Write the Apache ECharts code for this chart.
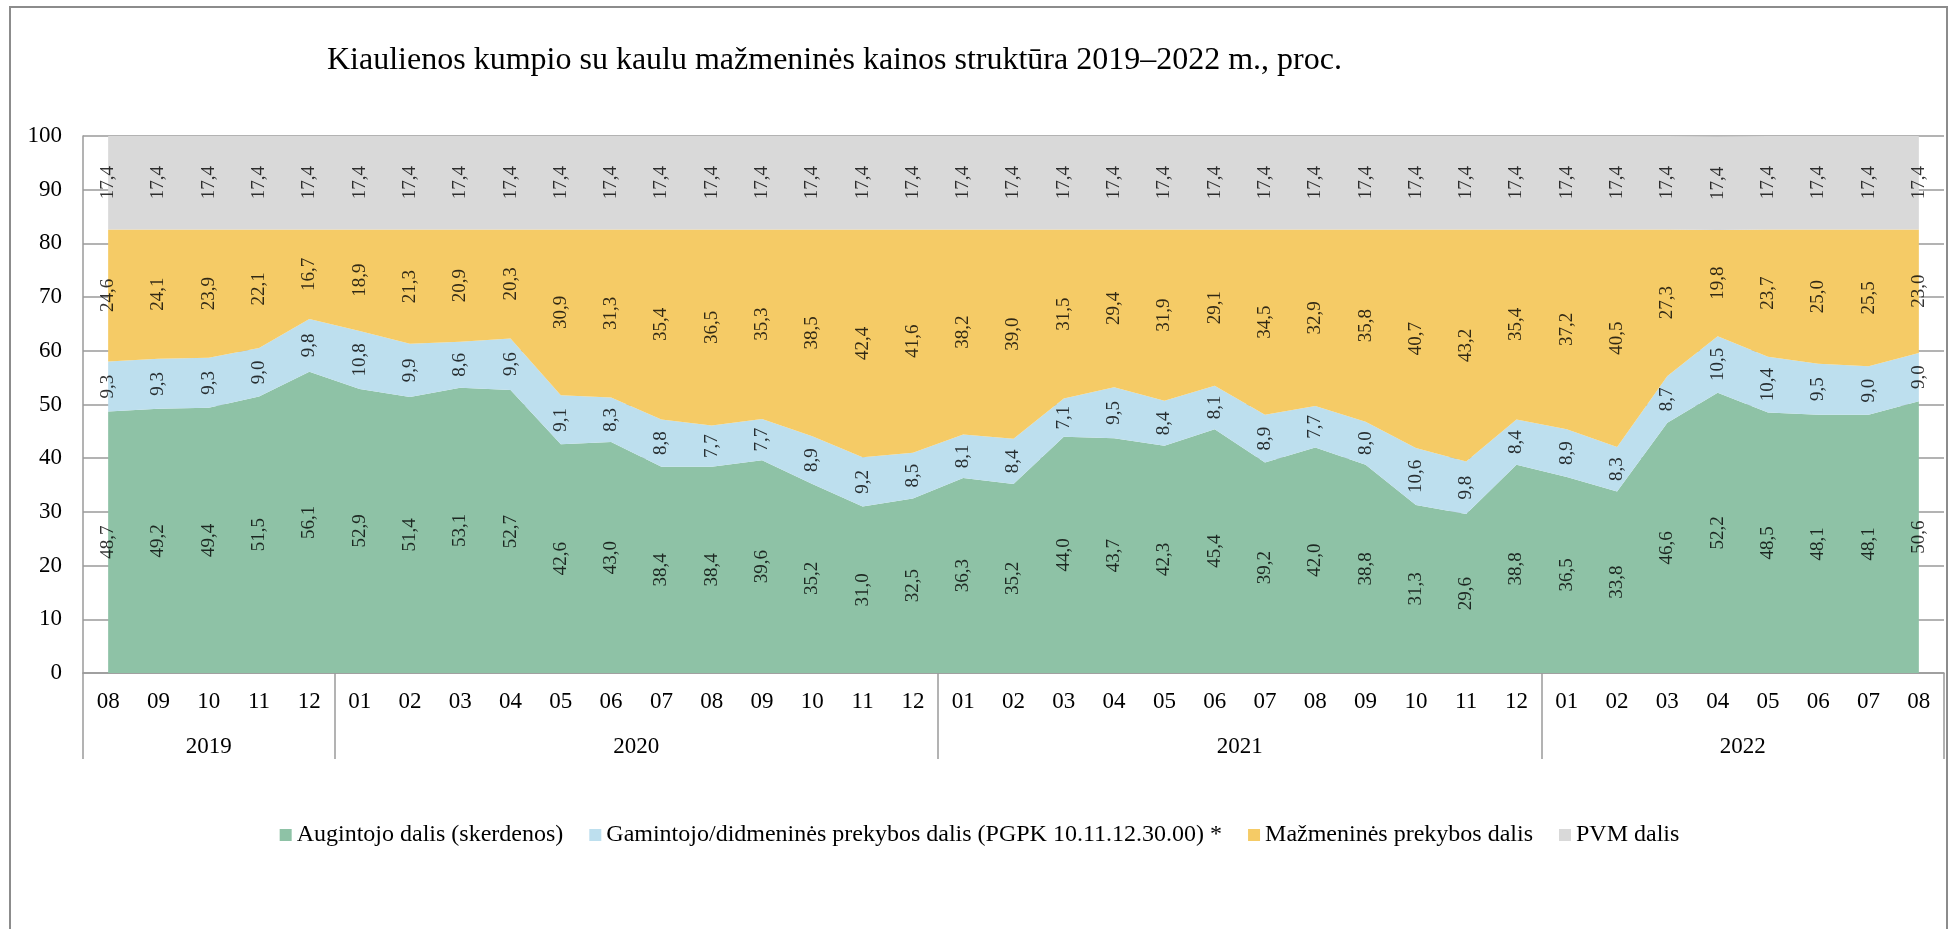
<!DOCTYPE html>
<html><head><meta charset="utf-8">
<script src="https://cdn.jsdelivr.net/npm/echarts@6/dist/echarts.min.js"></script>
<style>
html,body{margin:0;padding:0;background:#fff;}
#c{position:absolute;left:0;top:0;width:1959px;height:929px;}
#b{position:absolute;left:9px;top:6px;width:1935px;height:1000px;border:2px solid #8c8c8c;pointer-events:none;}
</style>
</head><body><div id="c"></div><div id="b"></div>
<script>
const months = ['08','09','10','11','12',
  '01','02','03','04','05','06','07','08','09','10','11','12',
  '01','02','03','04','05','06','07','08','09','10','11','12',
  '01','02','03','04','05','06','07','08'];
const years = ['2019','2020','2021','2022'];
const monthsPerYear = [5,12,12,8];
const seriesNames = ['Augintojo dalis (skerdenos)',
  'Gamintojo/didmeninės prekybos dalis (PGPK 10.11.12.30.00) *',
  'Mažmeninės prekybos dalis',
  'PVM dalis'];
const augintojo = [48.7,49.2,49.4,51.5,56.1,52.9,51.4,53.1,52.7,42.6,43.0,38.4,38.4,39.6,35.2,31.0,32.5,36.3,35.2,44.0,43.7,42.3,45.4,39.2,42.0,38.8,31.3,29.6,38.8,36.5,33.8,46.6,52.2,48.5,48.1,48.1,50.6];
const gamintojo = [9.3,9.3,9.3,9.0,9.8,10.8,9.9,8.6,9.6,9.1,8.3,8.8,7.7,7.7,8.9,9.2,8.5,8.1,8.4,7.1,9.5,8.4,8.1,8.9,7.7,8.0,10.6,9.8,8.4,8.9,8.3,8.7,10.5,10.4,9.5,9.0,9.0];
const mazmenines = [24.6,24.1,23.9,22.1,16.7,18.9,21.3,20.9,20.3,30.9,31.3,35.4,36.5,35.3,38.5,42.4,41.6,38.2,39.0,31.5,29.4,31.9,29.1,34.5,32.9,35.8,40.7,43.2,35.4,37.2,40.5,27.3,19.8,23.7,25.0,25.5,23.0];
const pvm = [17.4,17.4,17.4,17.4,17.4,17.4,17.4,17.4,17.4,17.4,17.4,17.4,17.4,17.4,17.4,17.4,17.4,17.4,17.4,17.4,17.4,17.4,17.4,17.4,17.4,17.4,17.4,17.4,17.4,17.4,17.4,17.4,17.4,17.4,17.4,17.4,17.4];
const colors = ['#8EC2A6','#BDDFEE','#F5CB66','#D9D9D9'];

const FONT = "'Liberation Serif','Times New Roman',serif";
const values = [augintojo, gamintojo, mazmenines, pvm];

// year group boundaries and centres (in month units)
const bounds = [0];
monthsPerYear.forEach(n => bounds.push(bounds[bounds.length-1] + n));
const centres = monthsPerYear.map((n, i) => bounds[i] + n / 2);

const areaSeries = values.map((arr, k) => ({
  name: seriesNames[k], type: 'line', stack: 'total', data: arr,
  symbol: 'none', lineStyle: {width: 0}, areaStyle: {color: colors[k], opacity: 1},
  itemStyle: {color: colors[k]}, z: 2, silent: true
}));
const labelSeries = values.map((arr, k) => ({
  name: 'lbl' + k, type: 'scatter', symbolSize: 0, z: 5, silent: true,
  data: arr.map((v, i) => {
    let base = 0;
    for (let j = 0; j < k; j++) base += values[j][i];
    return [i, base + v / 2, v];
  }),
  label: {show: true, position: 'inside', rotate: 90, color: '#000',
    fontFamily: FONT, fontSize: 19,
    formatter: p => p.value[2].toFixed(1).replace('.', ',')}
}));

const chart = echarts.init(document.getElementById('c'), null, {renderer: 'canvas'});
chart.setOption({
  animation: false,
  backgroundColor: '#fff',
  title: {text: 'Kiaulienos kumpio su kaulu mažmeninės kainos struktūra 2019–2022 m., proc.',
    left: 322, top: 40,
    textStyle: {fontFamily: FONT, fontSize: 32, fontWeight: 'normal', color: '#000'}},
  legend: {data: seriesNames, left: 'center', top: 818, icon: 'rect', itemWidth: 12, itemHeight: 12,
    itemGap: 26, textStyle: {fontFamily: FONT, fontSize: 24, color: '#000'}},
  grid: {left: 83, right: 15, top: 136, bottom: 256, containLabel: false},
  xAxis: [{
    type: 'category', data: months, boundaryGap: true,
    axisLine: {show: true, lineStyle: {color: '#9a9a9a', width: 1.5}},
    axisTick: {show: false},
    axisLabel: {interval: 0, margin: 17, fontFamily: FONT, fontSize: 23, color: '#000'},
    splitLine: {show: false}
  }, {
    type: 'value', position: 'bottom', offset: 0, min: 0, max: months.length,
    axisLine: {show: false},
    splitLine: {show: false},
    axisTick: {show: true, customValues: bounds, length: 86, lineStyle: {color: '#9a9a9a', width: 1.5}},
    axisLabel: {show: true, customValues: centres, margin: 62, fontFamily: FONT, fontSize: 23, color: '#000',
      formatter: v => { const i = centres.indexOf(v); return i >= 0 ? years[i] : ''; }}
  }],
  yAxis: {
    type: 'value', min: 0, max: 100, interval: 10,
    axisLine: {show: true, lineStyle: {color: '#9a9a9a', width: 1.5}},
    axisTick: {show: false},
    splitLine: {show: true, lineStyle: {color: '#9a9a9a', width: 1.5}},
    axisLabel: {margin: 21, fontFamily: FONT, fontSize: 23, color: '#000'}
  },
  series: areaSeries.concat(labelSeries)
});
</script>
</body></html>
